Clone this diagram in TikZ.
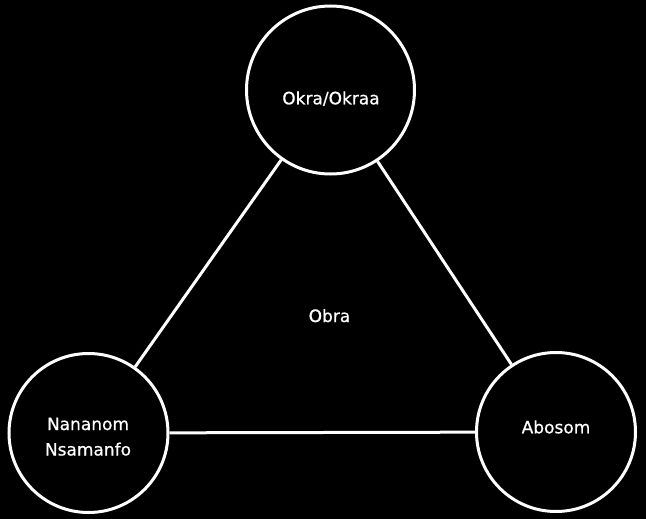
\documentclass[tikz,border=0pt]{standalone}
\usepackage{fontspec}
\setmainfont{DejaVu Sans}
\newfontfamily\lblfont{DejaVu Sans}[FakeBold=0.7]
\begin{document}
\begin{tikzpicture}[x=1pt,y=-1pt,
  ring/.style={circle,draw=white,line width=3pt,inner sep=0pt},
  lbl/.style={text=white,font=\lblfont\fontsize{17}{25.5}\selectfont,anchor=base,inner sep=0pt,align=center},
  link/.style={draw=white,line width=3pt}]
\fill[black] (0,0) rectangle (646,519);
\useasboundingbox (0,0) rectangle (646,519);
\node[ring,minimum size=168pt] (okra) at (330.5,90) {};
\node[ring,minimum size=159pt] (nana) at (88.5,433) {};
\node[ring,minimum size=159pt] (abo) at (556,432) {};
\draw[link] (okra) -- (nana);
\draw[link] (okra) -- (abo);
\draw[link] (nana) -- (abo);
\node[lbl] (tokra) at (331,104.3) {Okra/Okraa};
\node[lbl] (tobra) at (329.5,322) {Obra};
\node[lbl] (tnana1) at (88,430) {Nananom};
\node[lbl] (tnana2) at (88,455.5) {Nsamanfo};
\node[lbl] (tabo) at (556,433.3) {Abosom};
\end{tikzpicture}
\end{document}
